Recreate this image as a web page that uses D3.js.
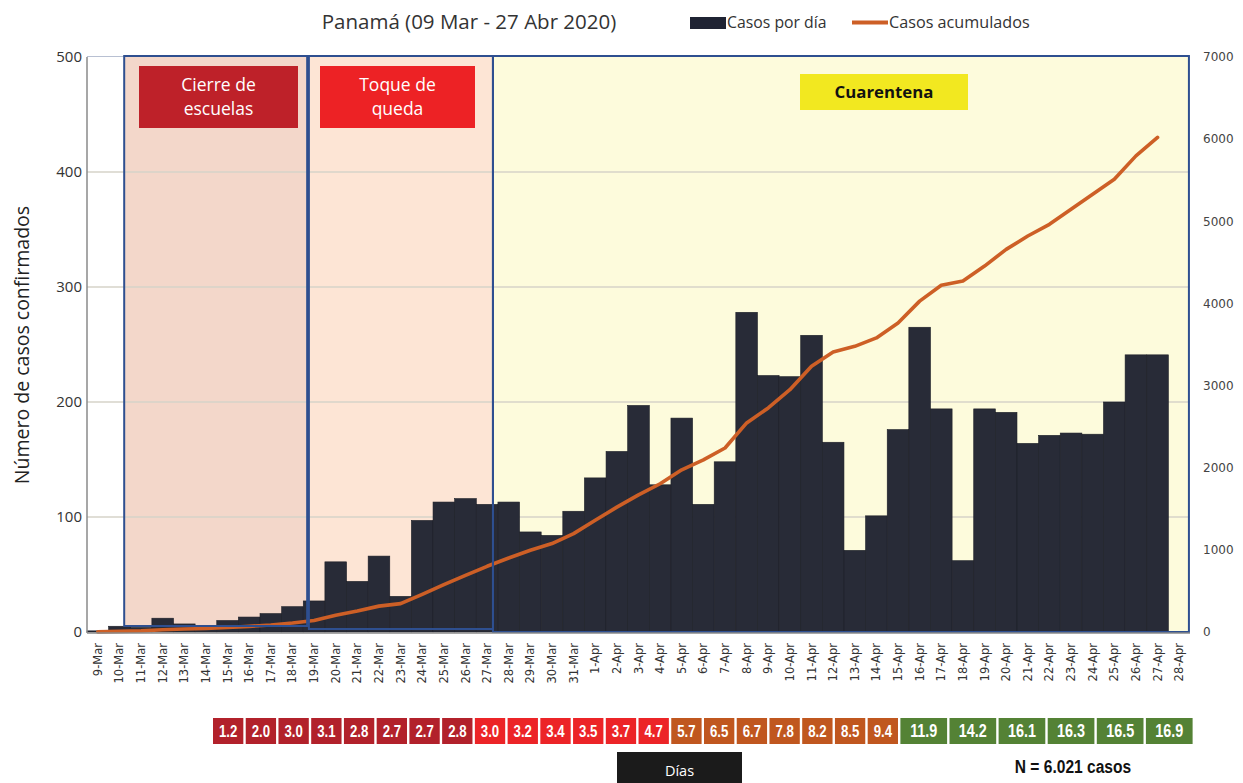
<!DOCTYPE html>
<html>
<head>
<meta charset="utf-8">
<script src="https://cdn.jsdelivr.net/npm/d3@7"></script>
<style>
  html, body { margin: 0; padding: 0; background: #ffffff; }
  svg { display: block; }
</style>
</head>
<body>
<svg id="chart" width="1243" height="783"></svg>
<script>
// ---------------- DATA ----------------
const title = "Panamá (09 Mar - 27 Abr 2020)";
const dates = ["9-Mar","10-Mar","11-Mar","12-Mar","13-Mar","14-Mar","15-Mar","16-Mar","17-Mar","18-Mar",
  "19-Mar","20-Mar","21-Mar","22-Mar","23-Mar","24-Mar","25-Mar","26-Mar","27-Mar","28-Mar","29-Mar",
  "30-Mar","31-Mar","1-Apr","2-Apr","3-Apr","4-Apr","5-Apr","6-Apr","7-Apr","8-Apr","9-Apr","10-Apr",
  "11-Apr","12-Apr","13-Apr","14-Apr","15-Apr","16-Apr","17-Apr","18-Apr","19-Apr","20-Apr","21-Apr",
  "22-Apr","23-Apr","24-Apr","25-Apr","26-Apr","27-Apr","28-Apr"];
const dailyCases = [1,5,4,12,7,5,10,13,16,22,27,61,44,66,31,97,113,116,111,113,87,84,105,
  134,157,197,128,186,111,148,278,223,222,258,165,71,101,176,265,194,62,194,191,164,171,173,172,200,241,241];
const cumulativeCases = [1,8,14,27,36,43,55,69,86,109,140,205,255,315,345,459,576,690,800,901,995,1077,1198,
  1360,1520,1670,1805,1975,2095,2240,2545,2728,2950,3235,3410,3478,3580,3762,4028,4222,4272,4455,4658,4821,
  4963,5146,5329,5512,5796,6021];
const leftTicks = [0,100,200,300,400,500];
const rightTicks = [0,1000,2000,3000,4000,5000,6000,7000];
// measures periods, as fractional positions along the day axis
const periodNames = ["Cierre de escuelas","Toque de queda","Cuarentena"];
const periodStart = [1.72, 10.26, 18.77];
const periodEnd = [10.18, 18.77, 50.95];
// doubling time (days) boxes
const doublingTimes = [1.2,2.0,3.0,3.1,2.8,2.7,2.7,2.8,3.0,3.2,3.4,3.5,3.7,4.7,5.7,6.5,6.7,7.8,8.2,8.5,9.4,
  11.9,14.2,16.1,16.3,16.5,16.9];
const doublingGroup = [0,0,0,0,0,0,0,0,1,1,1,1,1,1,2,2,2,2,2,2,2,3,3,3,3,3,3];
const legendLabels = ["Casos por día","Casos acumulados"];
const yAxisTitle = "Número de casos confirmados";
const daysLabel = "Días";
const totalLabel = "N = 6.021 casos";

// ---------------- STYLE / LAYOUT ----------------
const W = 1243, H = 783;
const plot = {left: 87, right: 1190, top: 57, bottom: 632};
const barColor = "#282b37", lineColor = "#cd5f26", borderBlue = "#2e4f90";
const periodFill = ["#f3d7ca", "#fde5d5", "#fdfbdc"];
const groupColors = ["#b2212b", "#ec2427", "#c0571f", "#548235"];
const calibri = "'Open Sans', 'Noto Sans', sans-serif";
const narrow = "'Liberation Sans', Arial, sans-serif";

const svg = d3.select("#chart");

const x = d3.scaleBand().domain(dates).range([plot.left, plot.right]).paddingInner(0).paddingOuter(0);
const xIdx = d3.scaleLinear().domain([0, dates.length]).range([plot.left, plot.right]);
const yL = d3.scaleLinear().domain([0, 500]).range([plot.bottom, plot.top]);
const yR = d3.scaleLinear().domain([0, 7000]).range([plot.bottom, plot.top]);

// period backgrounds
const periods = periodNames.map((n, i) => ({name: n, s: periodStart[i], e: periodEnd[i], fill: periodFill[i], i}));
const bottomInset = [6, 3, 0];
svg.append("g").selectAll("rect").data(periods).join("rect")
  .attr("x", d => xIdx(d.s)).attr("y", yL(500) - 1)
  .attr("width", d => xIdx(d.e) - xIdx(d.s))
  .attr("height", d => yL(0) - yL(500) + 1 - bottomInset[d.i])
  .attr("fill", d => d.fill);

// plot top border
svg.append("line").attr("x1", plot.left).attr("x2", plot.right)
  .attr("y1", plot.top - 0.5).attr("y2", plot.top - 0.5)
  .attr("stroke", "#b8c0d2").attr("stroke-width", 1);

// gridlines
svg.append("g").selectAll("line").data(leftTicks.filter(t => t > 0 && t < 500)).join("line")
  .attr("x1", plot.left).attr("x2", plot.right)
  .attr("y1", d => yL(d)).attr("y2", d => yL(d))
  .attr("stroke", "#d6d3c8").attr("stroke-width", 1.3);

// bars
svg.append("g").selectAll("rect").data(dailyCases).join("rect")
  .attr("x", (d, i) => x(dates[i]))
  .attr("y", d => yL(d))
  .attr("width", x.bandwidth())
  .attr("height", d => yL(0) - yL(d))
  .attr("fill", barColor)
  .attr("stroke", "#1c1e27").attr("stroke-width", 0.6);

// cumulative line
const line = d3.line()
  .x((d, i) => x(dates[i]) + x.bandwidth() / 2)
  .y(d => yR(d));
svg.append("path").datum(cumulativeCases)
  .attr("d", line).attr("fill", "none")
  .attr("stroke", lineColor).attr("stroke-width", 3.6)
  .attr("stroke-linejoin", "round").attr("stroke-linecap", "round");

// period borders
svg.append("g").selectAll("rect").data(periods).join("rect")
  .attr("x", d => xIdx(d.s)).attr("y", yL(500) - 1)
  .attr("width", d => xIdx(d.e) - xIdx(d.s))
  .attr("height", d => yL(0) - yL(500) + 1 - bottomInset[d.i])
  .attr("fill", "none").attr("stroke", borderBlue).attr("stroke-width", 2);

// axes lines
svg.append("line").attr("x1", plot.left).attr("x2", plot.left)
  .attr("y1", plot.top).attr("y2", plot.bottom + 1)
  .attr("stroke", "#8a8a8a").attr("stroke-width", 1.5);
svg.append("line").attr("x1", plot.left).attr("x2", plot.right)
  .attr("y1", plot.bottom + 1).attr("y2", plot.bottom + 1)
  .attr("stroke", "#8a8a8a").attr("stroke-width", 1.5);

// left axis
const leftAxis = d3.axisLeft(yL).tickValues(leftTicks).tickSize(0).tickPadding(0).tickFormat(d3.format("d"));
const gL = svg.append("g").attr("transform", `translate(${plot.left - 5},0)`).call(leftAxis);
gL.select(".domain").remove();
gL.selectAll("text").attr("font-family", calibri).attr("font-size", 15).attr("fill", "#333");

// right axis
const rightAxis = d3.axisRight(yR).tickValues(rightTicks).tickSize(0).tickPadding(0).tickFormat(d3.format("d"));
const gR = svg.append("g").attr("transform", `translate(${plot.right + 13},0)`).call(rightAxis);
gR.select(".domain").remove();
gR.selectAll("text").attr("font-family", "'DejaVu Sans', Verdana, sans-serif").attr("font-size", 12).attr("fill", "#444");

// bottom axis labels
const bottomAxis = d3.axisBottom(x).tickSize(0).tickPadding(0);
const gB = svg.append("g").attr("transform", `translate(0,${plot.bottom + 11})`).call(bottomAxis);
gB.select(".domain").remove();
gB.selectAll("text")
  .attr("font-family", "'DejaVu Sans', Verdana, sans-serif").attr("font-size", 11.5).attr("fill", "#333")
  .attr("text-anchor", "end").attr("transform", "rotate(-90)")
  .attr("x", 0).attr("y", 0).attr("dy", "0.35em");

// y axis title
svg.append("text").attr("transform", `translate(29,345) rotate(-90)`)
  .attr("text-anchor", "middle").attr("font-family", calibri).attr("font-size", 19.5).attr("fill", "#222")
  .text(yAxisTitle);

// title
svg.append("text").attr("x", 469).attr("y", 29).attr("text-anchor", "middle")
  .attr("font-family", calibri).attr("font-size", 20.5).attr("fill", "#333").text(title);

// legend
svg.append("rect").attr("x", 690).attr("y", 17).attr("width", 36).attr("height", 12).attr("fill", "#1f2333");
svg.append("text").attr("x", 727).attr("y", 28).attr("font-family", calibri).attr("font-size", 15.8)
  .attr("fill", "#333").text(legendLabels[0]);
svg.append("line").attr("x1", 852).attr("x2", 888).attr("y1", 22.5).attr("y2", 22.5)
  .attr("stroke", lineColor).attr("stroke-width", 4);
svg.append("text").attr("x", 889).attr("y", 28).attr("font-family", calibri).attr("font-size", 16.2)
  .attr("fill", "#333").text(legendLabels[1]);

// period label boxes
const labelBoxes = [
  {x0: 139, x1: 298, y0: 66, y1: 128, fill: "#be2129", color: "#fff", lines: ["Cierre de", "escuelas"], bold: false},
  {x0: 320, x1: 475, y0: 66, y1: 128, fill: "#ed2225", color: "#fff", lines: ["Toque de", "queda"], bold: false},
  {x0: 800, x1: 968, y0: 74, y1: 110, fill: "#f2e820", color: "#111", lines: ["Cuarentena"], bold: true}
];
labelBoxes.forEach((b, k) => {
  svg.append("rect").attr("x", b.x0).attr("y", b.y0).attr("width", b.x1 - b.x0).attr("height", b.y1 - b.y0)
    .attr("fill", b.fill);
  const cx = (b.x0 + b.x1) / 2, cy = (b.y0 + b.y1) / 2;
  const lh = 24;
  b.lines.forEach((t, j) => {
    svg.append("text").attr("x", cx).attr("y", cy + (j - (b.lines.length - 1) / 2) * lh)
      .attr("dy", "0.35em").attr("text-anchor", "middle")
      .attr("font-family", calibri).attr("font-size", b.bold ? 16.8 : 17.5)
      .attr("font-weight", b.bold ? "bold" : "normal")
      .attr("fill", b.color).text(t);
  });
});

// doubling-time boxes
const units = doublingGroup.map(g => g === 3 ? 3 : 2);
const cumUnits = [0];
units.forEach(u => cumUnits.push(cumUnits[cumUnits.length - 1] + u));
const bx = d3.scaleLinear().domain([0, cumUnits[cumUnits.length - 1]]).range([213, 1195]);
const gap = 2.4;
const boxG = svg.append("g").selectAll("g").data(doublingTimes).join("g");
boxG.append("rect")
  .attr("x", (d, i) => bx(cumUnits[i]))
  .attr("y", 718).attr("height", 26)
  .attr("width", (d, i) => bx(cumUnits[i + 1]) - bx(cumUnits[i]) - gap)
  .attr("fill", (d, i) => groupColors[doublingGroup[i]]);
boxG.append("text")
  .attr("transform", (d, i) => `translate(${(bx(cumUnits[i]) + bx(cumUnits[i + 1]) - gap) / 2},731) scale(0.8,1)`)
  .attr("dy", "0.36em").attr("text-anchor", "middle")
  .attr("font-family", narrow)
  .attr("font-size", (d, i) => doublingGroup[i] === 3 ? 18 : 16.5)
  .attr("font-weight", "bold")
  .attr("fill", "#fff").text(d => d.toFixed(1));

// Días box
svg.append("rect").attr("x", 617).attr("y", 752).attr("width", 125).attr("height", 31).attr("fill", "#1b1b1b");
svg.append("text").attr("x", 679.5).attr("y", 771).attr("dy", "0.35em").attr("text-anchor", "middle")
  .attr("font-family", calibri).attr("font-size", 14.5).attr("fill", "#fff").text(daysLabel);

// N label
svg.append("text").attr("transform", "translate(1073,766) scale(0.82,1)").attr("dy", "0.35em").attr("text-anchor", "middle")
  .attr("font-family", narrow)
  .attr("font-size", 19).attr("font-weight", "bold").attr("fill", "#111").text(totalLabel);
</script>
</body>
</html>
